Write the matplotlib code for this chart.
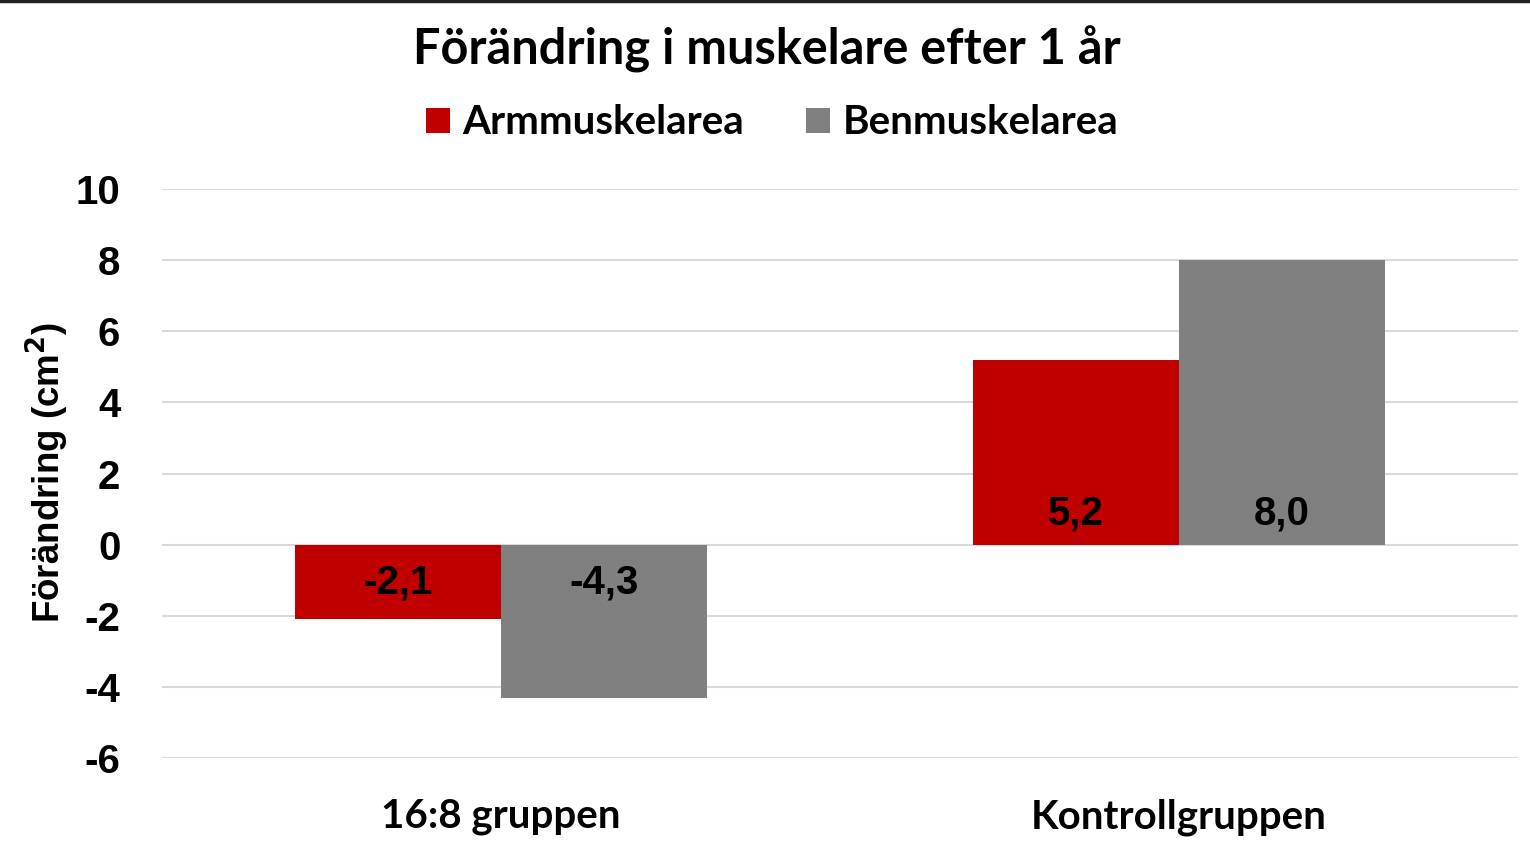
import matplotlib
matplotlib.use("Agg")
import matplotlib.pyplot as plt
from matplotlib.patches import Patch
from matplotlib.lines import Line2D
import numpy as np

categories = ["16:8 gruppen", "Kontrollgruppen"]
series_names = ["Armmuskelarea", "Benmuskelarea"]
arm_values = [-2.1, 5.2]
ben_values = [-4.3, 8.0]
yticks = [-6, -4, -2, 0, 2, 4, 6, 8, 10]
title = "Förändring i muskelare efter 1 år"
ylabel = "Förändring (cm$^{\\mathbf{2}}$)"

colors = ["#C00000", "#808080"]
W, H = 1530, 846
fig = plt.figure(figsize=(W / 100, H / 100), dpi=100)
fig.patch.set_facecolor("white")

ax = fig.add_axes([162 / W, 88 / H, (1518 - 162) / W, 569 / H])
x = np.arange(len(categories))
bw = 0.304
series = [arm_values, ben_values]
for i, (vals, c) in enumerate(zip(series, colors)):
    offs = (i - 0.5) * bw
    ax.bar(x + offs, vals, width=bw, color=c, zorder=3, linewidth=0)
    for xi, v in zip(x + offs, vals):
        lab = f"{v:.1f}".replace(".", ",")
        if v >= 0:
            ax.annotate(lab, (xi, 0), xytext=(0, 20), textcoords="offset pixels",
                        ha="center", va="baseline", fontsize=29, fontweight="bold",
                        family="Liberation Sans", color="black", zorder=4)
        else:
            ax.annotate(lab, (xi, 0), xytext=(0, -49), textcoords="offset pixels",
                        ha="center", va="baseline", fontsize=29, fontweight="bold",
                        family="Liberation Sans", color="black", zorder=4)

ax.set_xlim(-0.5, 1.5)
ax.set_ylim(-6, 10)
ax.set_yticks(yticks)
ax.set_yticklabels([str(t) for t in yticks], fontsize=29, fontweight="bold",
                   family="Liberation Sans")
for lbl in ax.get_yticklabels():
    lbl.set_y(lbl.get_position()[1])
ax.set_xticks(x)
ax.set_xticklabels(categories, fontsize=29, fontweight="bold", family="Lato")
ax.tick_params(axis="both", length=0)
ax.tick_params(axis="y", pad=30)
ax.tick_params(axis="x", pad=29)
for s in ax.spines.values():
    s.set_visible(False)
ax.grid(axis="y", color="#d9d9d9", linewidth=1.5, zorder=0)
ax.set_axisbelow(True)

fig.text(47 / W, 1 - 472 / H, ylabel, rotation=90, ha="center", va="center",
         fontsize=26.5, fontweight="bold", family="Liberation Sans")
fig.text(767 / W, 1 - 49 / H, title, ha="center", va="center",
         fontsize=35, fontweight="bold", family="Lato")

handles = [Patch(facecolor=c, edgecolor="none") for c in colors]
fig.legend(handles, series_names, loc="center", bbox_to_anchor=(772 / W, 1 - 123 / H),
           ncol=2, frameon=False, prop={"family": "Lato", "weight": "bold", "size": 29},
           handlelength=0.6, handleheight=0.6, handletextpad=0.3, columnspacing=1.55,
           borderpad=0, borderaxespad=0)

fig.add_artist(Line2D([0, 1], [1 - 1 / H, 1 - 1 / H], transform=fig.transFigure,
                      color="#222222", linewidth=2.5))

fig.savefig("out.png", dpi=100)
